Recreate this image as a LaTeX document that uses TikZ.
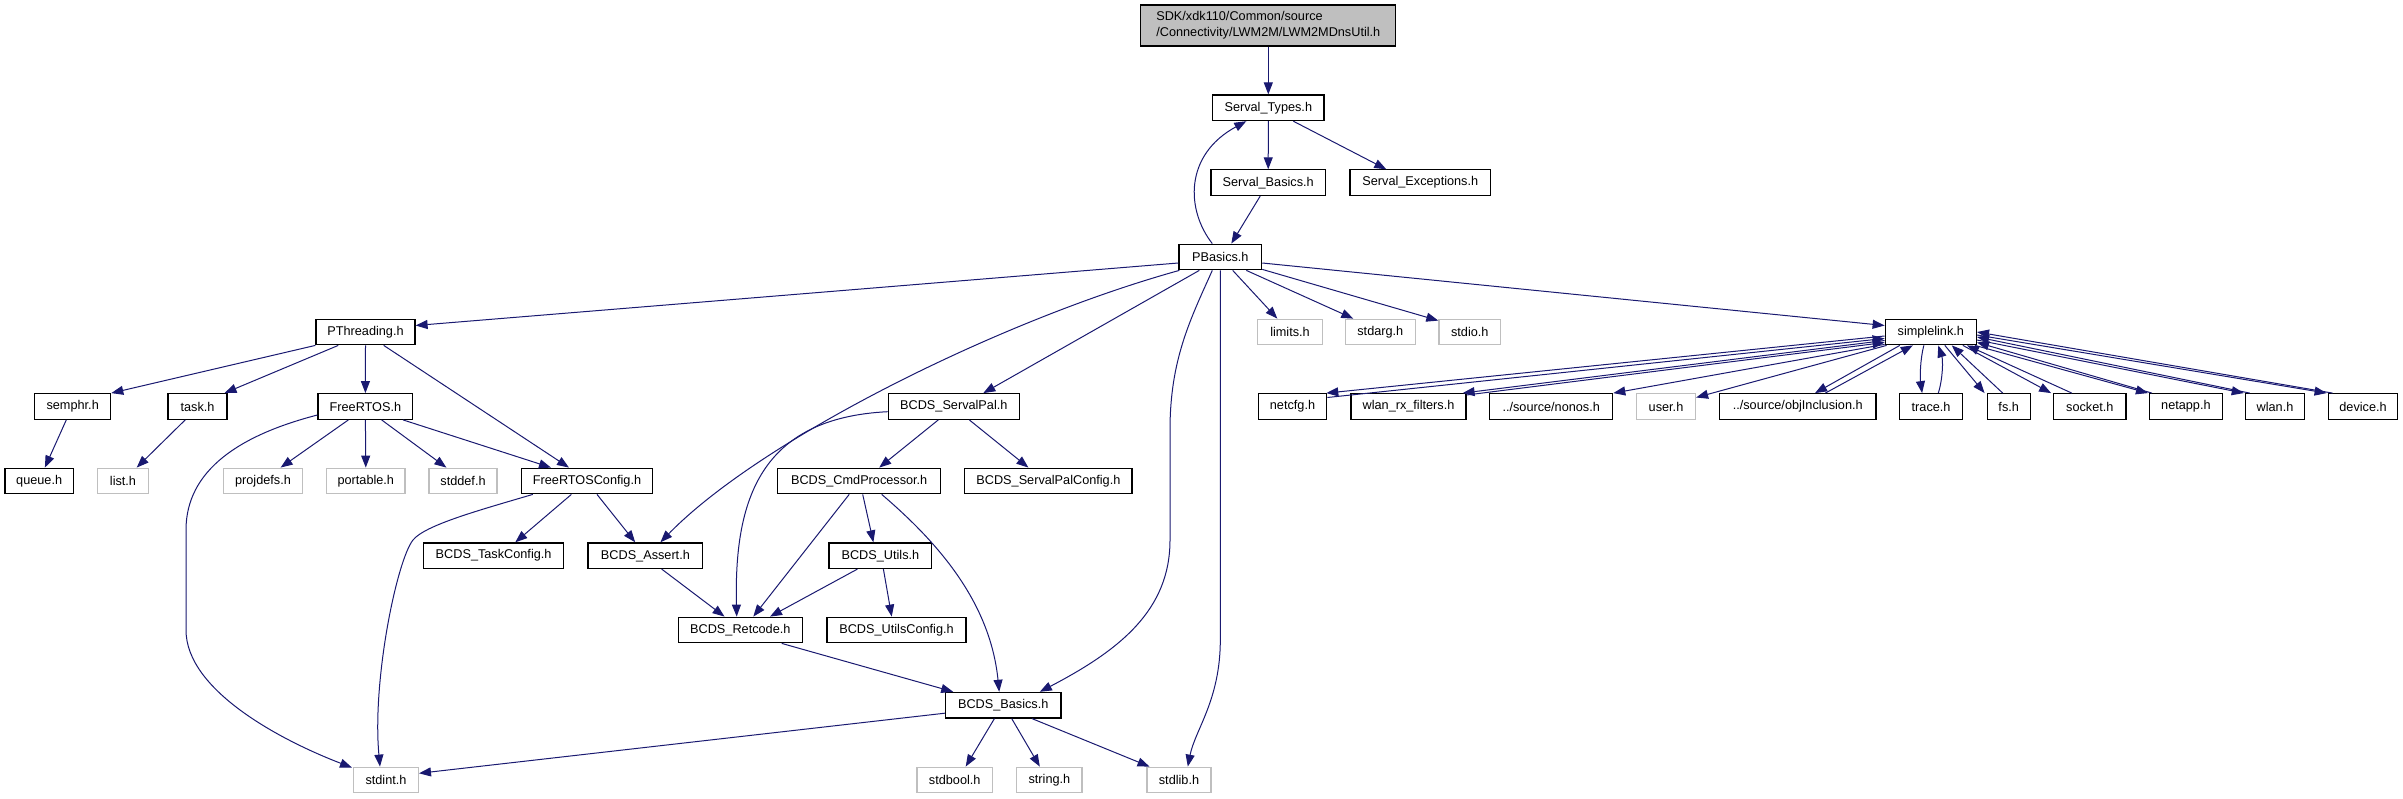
\documentclass[tikz,border=0pt]{standalone}
\usepackage{fontspec}
\newfontfamily\dfont{Liberation Sans}
\usetikzlibrary{arrows.meta,calc}
\definecolor{edgeblue}{HTML}{191970}
\definecolor{greyb}{HTML}{BFBFBF}
\begin{document}
\begin{tikzpicture}[x=1pt,y=-1pt,
  box/.style={draw=black, fill=white, line width=1.2pt, inner sep=0pt, minimum height=25.6pt, font={\dfont\fontsize{12.7}{16}\selectfont}},
  gbox/.style={box, draw=greyb},
  topbox/.style={box, fill=greyb, align=left, minimum height=41pt},
  edge/.style={draw=edgeblue, line width=1pt, -{Triangle[length=12pt,width=9pt]}}]
\useasboundingbox (0,0) rectangle (2403,799);
% nodes
\node[topbox, minimum width=255] (top) at (1268.3,25.5) {SDK/xdk110/Common/source\\/Connectivity/LWM2M/LWM2MDnsUtil.h};
\node[box, minimum width=111.3] (st) at (1268.3,107.8) {Serval\_Types.h};
\node[box, minimum width=114.3] (sb) at (1268.2,182.7) {Serval\_Basics.h};
\node[box, minimum width=140.7] (se) at (1420.3,182.7) {Serval\_Exceptions.h};
\node[box, minimum width=82.7] (pb) at (1220.3,257) {PBasics.h};
\node[box, minimum width=99] (pt) at (365.5,332) {PThreading.h};
\node[gbox, minimum width=64.6] (limits) at (1290,332) {limits.h};
\node[gbox, minimum width=69.6] (stdarg) at (1380.3,332) {stdarg.h};
\node[gbox, minimum width=61.8] (stdio) at (1469.8,332) {stdio.h};
\node[box, minimum width=91.2] (sl) at (1930.8,332) {simplelink.h};
\node[box, minimum width=76] (semphr) at (72.7,406.5) {semphr.h};
\node[box, minimum width=59] (task) at (197.5,406.5) {task.h};
\node[box, minimum width=94.8] (frtos) at (365.4,406.5) {FreeRTOS.h};
\node[box, minimum width=131] (spal) at (953.8,406.5) {BCDS\_ServalPal.h};
\node[box, minimum width=68.4] (netcfg) at (1292.5,406.5) {netcfg.h};
\node[box, minimum width=115] (wrx) at (1408.5,406.5) {wlan\_rx\_filters.h};
\node[box, minimum width=123] (nonos) at (1551.2,406.5) {../source/nonos.h};
\node[gbox, minimum width=59] (user) at (1666,406.5) {user.h};
\node[box, minimum width=156.7] (obj) at (1797.7,406.5) {../source/objInclusion.h};
\node[box, minimum width=63] (trace) at (1931.1,406.5) {trace.h};
\node[box, minimum width=43] (fs) at (2008.7,406.5) {fs.h};
\node[box, minimum width=72.2] (socket) at (2089.8,406.5) {socket.h};
\node[box, minimum width=72.7] (netapp) at (2185.9,406.5) {netapp.h};
\node[box, minimum width=59.4] (wlan) at (2275,406.5) {wlan.h};
\node[box, minimum width=69.7] (device) at (2363,406.5) {device.h};
\node[box, minimum width=68.5] (queue) at (39.2,481) {queue.h};
\node[gbox, minimum width=51] (list) at (123,481) {list.h};
\node[gbox, minimum width=79] (projdefs) at (263,481) {projdefs.h};
\node[gbox, minimum width=78.5] (portable) at (365.8,481) {portable.h};
\node[gbox, minimum width=68] (stddef) at (463,481) {stddef.h};
\node[box, minimum width=131.2] (frc) at (587,481) {FreeRTOSConfig.h};
\node[box, minimum width=163] (cmd) at (859.2,481) {BCDS\_CmdProcessor.h};
\node[box, minimum width=167.2] (spc) at (1048.4,481) {BCDS\_ServalPalConfig.h};
\node[box, minimum width=140.3] (tcfg) at (493.6,555.7) {BCDS\_TaskConfig.h};
\node[box, minimum width=114.7] (assert) at (645.4,555.7) {BCDS\_Assert.h};
\node[box, minimum width=102.7] (utils) at (880.4,555.7) {BCDS\_Utils.h};
\node[box, minimum width=124] (ret) at (740.3,630) {BCDS\_Retcode.h};
\node[box, minimum width=139] (ucfg) at (896.5,630) {BCDS\_UtilsConfig.h};
\node[box, minimum width=115.6] (bb) at (1003.2,705.2) {BCDS\_Basics.h};
\node[gbox, minimum width=64.8] (stdint) at (386,780) {stdint.h};
\node[gbox, minimum width=75.3] (stdbool) at (954.7,780) {stdbool.h};
\node[gbox, minimum width=65.2] (string) at (1049.4,780) {string.h};
\node[gbox, minimum width=64] (stdlib) at (1179,780) {stdlib.h};
% edges
\draw[edge] (top.south) -- (st.north);
\draw[edge] (st.south) -- (sb.north);
\draw[edge] ($(st.south)+(25,0)$) -- ($(se.north)+(-34,0)$);
\draw[edge] ($(sb.south)+(-8,0)$) -- ($(pb.north)+(11,0)$);
\draw[edge] ($(pb.north)+(-8,0)$) .. controls (1186,210) and (1184,155) .. ($(st.south)+(-22,0)$);
\draw[edge] ($(pb.west)+(0,6)$) -- ($(pt.east)+(0,-6.5)$);
\draw[edge] ($(pb.south west)+(1,0)$) .. controls (1000,320) and (760,440) .. ($(assert.north)+(15,0)$);
\draw[edge] ($(pb.south)+(-21,0)$) -- ($(spal.north)+(29.5,0)$);
\draw[edge] ($(pb.south)+(-8,0)$) .. controls (1190,320) and (1170,360) .. (1170,430) -- (1170,540) .. controls (1170,610) and (1120,650) .. ($(bb.north)+(36.6,0)$);
\draw[edge] (pb.south) -- (1220.3,640) .. controls (1220.3,700) and (1195,730) .. ($(stdlib.north)+(8.8,0)$);
\draw[edge] ($(pb.south)+(12.4,0)$) -- ($(limits.north)+(-12.7,0)$);
\draw[edge] ($(pb.south)+(26,0)$) -- ($(stdarg.north)+(-27,0)$);
\draw[edge] ($(pb.south east)+(0,-1)$) -- ($(stdio.north west)+(0,2)$);
\draw[edge] ($(pb.east)+(0,6)$) -- ($(sl.west)+(0,-6.5)$);
% PThreading
\draw[edge] (pt.south west) -- (semphr.north east);
\draw[edge] ($(pt.south)+(-27.2,0)$) -- ($(task.north)+(27,0)$);
\draw[edge] (pt.south) -- (frtos.north);
\draw[edge] ($(pt.south)+(18.2,0)$) -- ($(frc.north)+(-18,0)$);
\draw[edge] ($(semphr.south)+(-6.4,0)$) -- ($(queue.north)+(5.7,0)$);
\draw[edge] ($(task.south)+(-12.3,0)$) -- ($(list.north)+(13.7,0)$);
% FreeRTOS
\draw[edge] ($(frtos.south)+(-17,0)$) -- ($(projdefs.north)+(17.6,0)$);
\draw[edge] (frtos.south) -- (portable.north);
\draw[edge] ($(frtos.south)+(16.2,0)$) -- ($(stddef.north)+(-16.6,0)$);
\draw[edge] ($(frtos.south)+(37.6,0)$) -- ($(frc.north)+(-36,0)$);
\draw[edge] ($(frtos.west)+(0,8.5)$) .. controls (240,435) and (186,470) .. (186,530) -- (186,630) .. controls (186,690) and (280,740) .. ($(stdint.north west)+(-1,1)$);
% FreeRTOSConfig
\draw[edge] ($(frc.south west)+(12,0)$) .. controls (480,510) and (425,525) .. (413,540) .. controls (397,560) and (372,680) .. ($(stdint.north)+(-6,0)$);
\draw[edge] ($(frc.south)+(-15.6,0)$) -- ($(tcfg.north)+(21.7,0)$);
\draw[edge] ($(frc.south)+(10,0)$) -- ($(assert.north)+(-10.2,0)$);
\draw[edge] ($(assert.south)+(16.3,0)$) -- ($(ret.north)+(-15.8,0)$);
% ServalPal
\draw[edge] ($(spal.west)+(0,5.2)$) .. controls (760,418) and (734,500) .. ($(ret.north)+(-3.6,0)$);
\draw[edge] ($(spal.south)+(-15.5,0)$) -- ($(cmd.north)+(20,0)$);
\draw[edge] ($(spal.south)+(15.5,0)$) -- ($(spc.north)+(-20,0)$);
% CmdProcessor
\draw[edge] ($(cmd.south)+(-10,0)$) -- ($(ret.north)+(13,0)$);
\draw[edge] ($(cmd.south)+(3.5,0)$) -- ($(utils.north)+(-7,0)$);
\draw[edge] ($(cmd.south)+(22.5,0)$) .. controls (935,540) and (990,600) .. ($(bb.north)+(-4,0)$);
\draw[edge] ($(utils.south)+(-23,0)$) -- ($(ret.north)+(29.7,0)$);
\draw[edge] ($(utils.south)+(3,0)$) -- ($(ucfg.north)+(-4.8,0)$);
\draw[edge] ($(ret.south)+(41.4,0)$) -- ($(bb.north)+(-50,0)$);
% BCDS_Basics
\draw[edge] ($(bb.west)+(0,8)$) -- ($(stdint.east)+(0,-6.7)$);
\draw[edge] ($(bb.south)+(-8.8,0)$) -- ($(stdbool.north)+(11,0)$);
\draw[edge] ($(bb.south)+(8.5,0)$) -- ($(string.north)+(-9.6,0)$);
\draw[edge] ($(bb.south)+(28.8,0)$) -- ($(stdlib.north)+(-29.5,0)$);
% simplelink
\draw[edge] ($(sl.west)+(0,4)$) -- ($(netcfg.north east)+(-1,0)$);
\draw[edge] ($(netcfg.east)+(0,-9)$) -- ($(sl.west)+(0,6.5)$);
\draw[edge] ($(sl.west)+(0,8.5)$) -- ($(wrx.north east)+(-4,0)$);
\draw[edge] ($(wrx.east)+(0,-11.5)$) -- ($(sl.west)+(0,10.5)$);
\draw[edge] ($(sl.south west)+(0,-1)$) -- (nonos.north east);
\draw[edge] ($(sl.south west)+(2,0)$) -- ($(user.east)+(0,-9)$);
\draw[edge] ($(sl.south)+(-31,0)$) -- ($(obj.north)+(17.3,0)$);
\draw[edge] ($(obj.north)+(27.6,0)$) -- ($(sl.south)+(-18,0)$);
\draw[edge] ($(sl.south)+(-7,0)$) .. controls (1920,360) and (1920,378) .. ($(trace.north)+(-9,0)$);
\draw[edge] ($(trace.north)+(7.2,0)$) .. controls (1943,378) and (1943,360) .. ($(sl.south)+(7.5,0)$);
\draw[edge] ($(sl.south)+(14,0)$) -- ($(fs.north west)+(-2,0)$);
\draw[edge] ($(fs.north)+(-6,0)$) -- ($(sl.south)+(21,0)$);
\draw[edge] ($(sl.south)+(32,0)$) -- ($(socket.north west)+(-2,0)$);
\draw[edge] ($(socket.north)+(-18,0)$) -- ($(sl.south east)+(-10,0)$);
\draw[edge] ($(sl.south east)+(-2,0)$) -- ($(netapp.north west)+(-1,0)$);
\draw[edge] ($(netapp.north west)+(3,0)$) -- ($(sl.south east)+(0,-3)$);
\draw[edge] ($(sl.east)+(0,8)$) -- ($(wlan.north west)+(-1,0)$);
\draw[edge] ($(wlan.north west)+(5,0)$) -- ($(sl.east)+(0,5)$);
\draw[edge] ($(sl.east)+(0,3)$) -- ($(device.north west)+(-1,0)$);
\draw[edge] ($(device.north west)+(5,0)$) -- ($(sl.east)+(0,0)$);
\end{tikzpicture}
\end{document}
